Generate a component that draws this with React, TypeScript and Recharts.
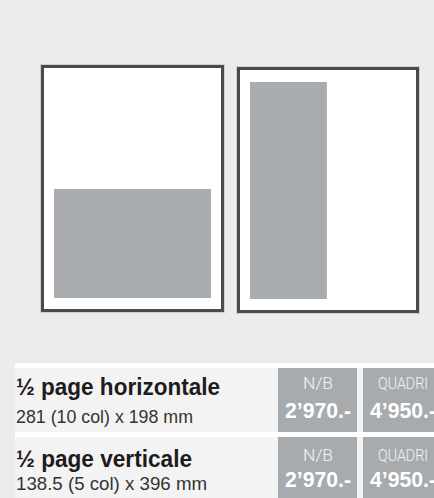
import { ComposedChart, XAxis, YAxis, ReferenceArea } from 'recharts';

// ad formats (mm) and the type area they sit in
const TYPE_AREA_MM = [281, 396];
const AD_NAMES = ['½ page horizontale', '½ page verticale'];
const AD_SIZES = ['281 (10 col) x 198 mm', '138.5 (5 col) x 396 mm'];
const AD_WIDTH_MM = [281, 138.5];
const AD_HEIGHT_MM = [198, 396];
const PRICE_LABELS = ['N/B', 'QUADRI'];
const PRICE_NB = ['2’970.-', '2’970.-'];
const PRICE_QUADRI = ['4’950.-', '4’950.-'];

const COLORS = {
  bg: '#ececec',
  frame: '#4b4b4b',
  ad: '#a9acaf',
  row: '#f3f3f3',
  cell: '#a8abae',
  ink: '#1e1b1c',
};

// page boxes on the sheet
const PAGES = [
  { left: 41, top: 65, width: 183, height: 247 },
  { left: 237, top: 67, width: 182, height: 246 },
];

const FONT = '"Liberation Sans", Arial, sans-serif';

function PageDiagram({ index }: { index: number }) {
  const box = PAGES[index];
  const w = AD_WIDTH_MM[index];
  const h = AD_HEIGHT_MM[index];
  return (
    <div
      style={{
        position: 'absolute',
        left: box.left,
        top: box.top,
        width: box.width,
        height: box.height,
        boxSizing: 'border-box',
        border: `3px solid ${COLORS.frame}`,
        boxShadow: '0 0 0 1px rgba(0,0,0,0.12)',
        background: '#fff',
      }}
    >
      <ComposedChart
        width={box.width - 6}
        height={box.height - 6}
        data={[{ x: 0, y: 0 }]}
        margin={{ top: 0, right: 0, bottom: 0, left: 0 }}
      >
        <XAxis type="number" dataKey="x" domain={[-18, TYPE_AREA_MM[0] + 18]} hide allowDataOverflow />
        <YAxis type="number" dataKey="y" domain={[-20, TYPE_AREA_MM[1] + 22]} hide allowDataOverflow />
        <ReferenceArea
          x1={0}
          x2={w}
          y1={0}
          y2={h}
          fill={COLORS.ad}
          fillOpacity={1}
          stroke="none"
          isFront
        />
      </ComposedChart>
    </div>
  );
}

// text rows of the price table
const ROW_TOP = [368, 437];
const ROW_H = 64;
const TITLE_W = [204, 176];
const SIZE_W = [177, 191];

function PriceTable() {
  return (
    <svg width={434} height={135} style={{ position: 'absolute', left: 0, top: 363 }}>
      <rect x={15} y={0} width={419} height={135} fill="#fff" />
      {AD_NAMES.map((name, i) => {
        const y = ROW_TOP[i] - 363;
        const off = i === 0 ? 0 : 3;
        return (
          <g key={name}>
            <rect x={15} y={y} width={419} height={ROW_H} fill={COLORS.row} />
            <text
              x={16}
              y={y + 27 + off}
              fontFamily={FONT}
              fontWeight={700}
              fontSize={24}
              fill={COLORS.ink}
              textLength={TITLE_W[i]}
              lengthAdjust="spacingAndGlyphs"
            >
              {name}
            </text>
            <text
              x={16}
              y={y + 55 - off * 0.7}
              fontFamily={FONT}
              fontSize={19}
              fill="#333"
              textLength={SIZE_W[i]}
              lengthAdjust="spacingAndGlyphs"
            >
              {AD_SIZES[i]}
            </text>
            {[PRICE_NB[i], PRICE_QUADRI[i]].map((price, j) => {
              const cx = j === 0 ? 318 : 403;
              return (
                <g key={PRICE_LABELS[j]}>
                  <rect x={j === 0 ? 278 : 363} y={y} width={79} height={ROW_H} fill={COLORS.cell} />
                  <text
                    x={cx}
                    y={y + 21 + off}
                    textAnchor="middle"
                    fontFamily='Roboto, "Liberation Sans", sans-serif'
                    fontWeight={300}
                    fontSize={16}
                    fill="#f4f4f4"
                    textLength={j === 0 ? 30 : 50}
                    lengthAdjust="spacingAndGlyphs"
                  >
                    {PRICE_LABELS[j]}
                  </text>
                  <text
                    x={cx}
                    y={y + 50}
                    textAnchor="middle"
                    fontFamily={FONT}
                    fontWeight={700}
                    fontSize={22}
                    fill="#fff"
                    textLength={66}
                    lengthAdjust="spacingAndGlyphs"
                  >
                    {price}
                  </text>
                </g>
              );
            })}
          </g>
        );
      })}
    </svg>
  );
}

export default function App() {
  return (
    <div
      style={{
        position: 'absolute',
        left: 0,
        top: 0,
        width: 434,
        height: 498,
        overflow: 'hidden',
        background: COLORS.bg,
      }}
    >
      <PageDiagram index={0} />
      <PageDiagram index={1} />
      <PriceTable />
    </div>
  );
}
